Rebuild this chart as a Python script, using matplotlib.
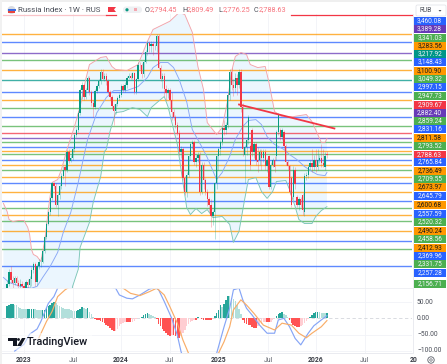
import numpy as np
import matplotlib
matplotlib.use('Agg')
import matplotlib.pyplot as plt
from matplotlib.patches import Rectangle, FancyBboxPatch, Polygon, Circle

plt.rcParams['font.family'] = ['Roboto', 'DejaVu Sans']

W, H = 447, 364

# weekly candles, first one is week 2 on the x axis
first_week = 2
opens = [
    2160,2181,2235,2198,2185,2206,2185,2173,2181,2173,
    2165,2189,2177,2202,2240,2266,2189,2257,2274,2278,
    2322,2385,2449,2501,2569,2643,2628,2539,2588,2628,
    2683,2725,2714,2804,2761,2777,2820,2901,2929,3025,
    3161,3191,3119,3161,3234,3149,3083,3060,3155,3185,
    3210,3271,3228,3246,3210,3149,3119,3066,3037,3077,
    3113,3131,3185,3161,3191,3234,3246,3234,3259,3149,
    3222,3315,3309,3253,3334,3392,3457,3431,3450,3431,
    3437,3501,3296,3222,3246,3167,3143,3161,3101,3031,
    2997,2957,2912,2804,2820,2673,2603,2688,2783,2847,
    2858,2756,2777,2793,2603,2740,2663,2603,2564,2539,
    2486,2505,2643,2783,2820,2858,2940,2929,2957,3131,
    3271,3191,3173,3234,3191,3271,3060,2793,2831,2874,
    2836,2929,2804,2847,2766,2766,2809,2777,2809,2730,
    2783,2623,2740,2766,2783,2918,2929,2890,2918,2836,
    2751,2730,2673,2578,2714,2578,2539,2564,2588,2501,
    2683,2688,2725,2746,2725,2766,2725,2766,2777,2746,
    2725,2794.45]
highs = [
    2198,2244,2257,2218,2214,2214,2198,2202,2193,2185,
    2198,2202,2214,2253,2278,2274,2266,2291,2296,2331,
    2394,2458,2510,2578,2653,2653,2643,2598,2638,2694,
    2730,2740,2815,2820,2793,2831,2912,2940,3037,3173,
    3204,3197,3173,3246,3246,3161,3101,3167,3197,3222,
    3284,3284,3259,3259,3222,3161,3131,3077,3089,3125,
    3143,3197,3197,3204,3246,3259,3259,3271,3271,3234,
    3328,3328,3322,3347,3405,3470,3470,3464,3464,3450,
    3515,3515,3309,3259,3259,3191,3173,3173,3149,3043,
    3014,2974,2929,2836,2831,2683,2699,2793,2858,2869,
    2874,2788,2809,2804,2751,2751,2673,2613,2574,2564,
    2515,2653,2793,2831,2869,2951,2985,2974,3149,3284,
    3296,3222,3259,3253,3284,3284,3083,2842,2885,3014,
    2847,2940,2858,2858,2831,2820,2820,2820,2820,2777,
    2793,2751,2777,2783,2929,3025,2940,2940,2929,2847,
    2766,2740,2683,2730,2725,2588,2574,2574,2598,2694,
    2704,2740,2766,2820,2793,2820,2820,2793,2847,2820,
    2809,2809.49]
lows = [
    2156,2173,2185,2165,2177,2173,2160,2160,2160,2152,
    2156,2165,2169,2173,2227,2173,2177,2244,2253,2270,
    2314,2376,2440,2491,2559,2613,2529,2482,2564,2613,
    2668,2628,2704,2746,2751,2766,2809,2885,2918,3014,
    3107,3101,3107,3149,3131,3066,2997,3043,3143,3173,
    3197,3216,3210,3191,3137,3101,3048,2957,3019,3066,
    3101,3119,3149,3149,3173,3222,3222,3222,3137,3137,
    3210,3284,3234,3240,3322,3379,3398,3398,3379,3411,
    3398,3284,3210,3173,3125,3101,3113,3054,2985,2980,
    2940,2901,2793,2777,2663,2588,2574,2678,2766,2820,
    2740,2725,2756,2588,2593,2613,2588,2534,2505,2431,
    2440,2376,2613,2714,2793,2842,2901,2907,2940,3101,
    3161,3125,3149,3131,3173,3031,2783,2648,2793,2847,
    2714,2783,2777,2740,2704,2740,2714,2756,2714,2704,
    2613,2613,2725,2704,2766,2896,2874,2874,2820,2740,
    2714,2588,2525,2564,2613,2525,2515,2525,2491,2486,
    2663,2673,2714,2704,2714,2704,2714,2746,2725,2725,
    2714,2776.25]
closes = [
    2181,2235,2198,2185,2206,2185,2173,2181,2173,2165,
    2189,2177,2202,2240,2266,2189,2257,2274,2278,2322,
    2385,2449,2501,2569,2643,2628,2539,2588,2628,2683,
    2714,2714,2804,2761,2777,2820,2901,2929,3025,3161,
    3191,3119,3161,3234,3149,3083,3060,3155,3185,3210,
    3271,3228,3246,3210,3149,3119,3066,3037,3077,3113,
    3131,3185,3161,3191,3234,3246,3234,3259,3149,3222,
    3315,3309,3253,3334,3392,3457,3431,3450,3431,3437,
    3501,3296,3222,3246,3167,3143,3161,3101,3031,2997,
    2957,2912,2804,2820,2673,2603,2688,2783,2847,2858,
    2756,2777,2793,2603,2740,2663,2603,2564,2539,2486,
    2505,2643,2783,2820,2858,2940,2929,2957,3131,3271,
    3191,3173,3234,3191,3271,3060,2820,2831,2874,3002,
    2740,2804,2847,2766,2756,2809,2777,2809,2730,2766,
    2623,2740,2766,2725,2918,3014,2890,2929,2836,2751,
    2730,2603,2539,2714,2638,2539,2564,2539,2515,2683,
    2688,2725,2746,2725,2766,2725,2766,2777,2746,2740,
    2783,2788.63]

# bollinger bands
upper_weeks = [0,2,3,5,8,11,13,14,15,16,18,20,21,22,23,24,26,29,31,34,38,41,44,46,52,55,58,60,
               66,72,77,80,89,94,97,101,104,107,109,114,117,120,122,124,127,130,132,136,140,
               142,145,149,155,162,165,170,172,173]
upper_band = [2545,2505,2468,2458,2463,2463,2431,2399,2331,2309,2300,2278,2322,2367,2431,2515,2648,2663,2714,
              2820,2946,3060,3222,3315,3360,3366,3303,3284,3277,3315,3464,3544,3600,3661,3646,3525,3303,3161,
              2968,2901,2940,3101,3271,3366,3392,3379,3315,3296,3303,3204,3031,3002,3002,3014,2974,2858,2858,2879]
middle_weeks = [0,3,9,15,18,21,25,29,32,36,40,43,45,50,55,59,66,72,77,80,84,88,91,94,98,101,106,109,
                114,117,121,124,128,131,135,138,141,145,150,153,157,161,165,168,172,173]
middle_band = [2210,2189,2173,2165,2173,2210,2257,2318,2408,2501,2648,2783,2874,3025,3113,3155,3155,3179,3234,
               3296,3328,3328,3296,3222,3089,2929,2836,2777,2663,2699,2783,2874,2946,2980,2985,2957,2890,2847,
               2820,2793,2766,2730,2704,2688,2683,2699]
lower_weeks = [0,30,36,37,40,41,46,48,52,54,55,57,60,64,69,73,77,79,84,86,88,91,93,96,98,100,103,106,109,
               112,117,121,123,126,129,131,135,138,141,144,146,151,153,156,158,161,165,167,170,173]
lower_band = [2000,2000,2125,2173,2244,2340,2454,2549,2678,2809,2820,2918,3025,3031,3054,3043,3002,3054,3101,
              3119,3060,2929,2847,2648,2525,2491,2520,2496,2515,2477,2482,2445,2363,2413,2564,2663,2673,2603,
              2569,2603,2653,2658,2613,2529,2468,2449,2449,2482,2510,2529]

# horizontal levels
level_prices = [3512,3460.08,3389.28,3341.03,3283.56,3217.92,3148.43,3100.90,3049.32,2997.15,2947.73,2909.67,
                2882.40,2859.24,2831.16,2811.58,2793.52,2765.84,2736.49,2709.55,2673.97,2645.79,2600.68,
                2557.59,2520.32,2490.24,2458.56,2412.93,2369.96,2331.75,2257.28,2156.71]
level_colors = ['o','b','p','g','o','t','b','o','g','b','g','r','p','g','b','o','g','b','o','g','o','b','o',
                'b','g','o','g','o','b','g','b','g']
palette = {'o': '#ff9800', 'b': '#2962ff', 'p': '#673ab7', 'g': '#4caf50', 't': '#009688', 'r': '#f23645'}

trend_weeks = [126, 177]
trend_prices = [3072, 2935]

# price scale labels, top to bottom
scale_labels = ['3,460.08','3,389.28','3,341.03','3,283.56','3,217.92','3,148.43','3,100.90','3,049.32','2,997.15',
                '2,947.73','2,909.67','2,882.40','2,859.24','2,831.16','2,811.58','2,793.52','2,788.63','2,765.84',
                '2,736.49','2,709.55','2,673.97','2,645.79','2,600.68','2,557.59','2,520.32','2,490.24','2,458.56',
                '2,412.93','2,369.96','2,331.75','2,257.28','2,156.71']
scale_colors = ['b','p','g','o','t','b','o','g','b','g','r','p','g','b','o','g','r','b','o','g','o','b','o','b','g',
                'o','g','o','b','g','b','g']
scale_y = [21,29,37.5,45.6,54,62,70.5,79,87,96,104.5,113,121,129,138,146,154.5,162,170.5,179,187,196,205,214,222,
           230.5,239,247.5,255.5,264,272.5,283.5]

# macd pane
hist = [
    38,42,43,43,42,40,35,31,30,29,
    28,28,29,29,29,28,27,26,25,25,
    26,32,38,42,46,50,48,42,38,34,
    32,30,29,28,26,24,22,22,26,30,
    35,32,30,32,20,12,4,-3,-5,-6,
    -8,-12,-16,-20,-24,-30,-36,-40,-38,-32,
    -25,-18,-15,-12,-12,-12,-12,-10,-8,-1,
    1,2,4,10,14,15,12,10,8,3,
    -1,-18,-25,-33,-38,-45,-52,-55,-50,-50,
    -55,-60,-62,-55,-45,-35,-25,-18,-12,-8,
    -5,-6,3,1,-2,-4,-5,-5,-5,-5,
    -3,8,15,25,40,35,45,55,70,68,
    62,60,52,40,30,12,-5,-15,-18,-20,
    -22,-26,-30,-30,-25,-22,-18,-12,-10,-12,
    -12,-10,-6,-1,6,14,17,18,14,10,
    4,-5,-15,-20,-25,-28,-28,-25,-22,-15,
    -8,-2,4,10,16,20,20,18,17,16,
    15,15]
macd_weeks = [6,11,14,18,20,24,27,29,34,60,62,66,69,73,78,81,83,86,90,93,95,98,112,115,118,121,123,126,128,130,133,
              137,141,145,147,150,153,156,159,163,166,170,173]
macd_line = [-101,-80,-49,-33,-10,46,67,93,124,93,72,62,60,72,90,95,88,52,0,-52,-103,-150,-150,-88,-26,31,88,93,57,
             31,10,-21,-46,-46,-5,0,-26,-62,-82,-46,-23,-5,8]
signal_weeks = [19,23,26,29,33,37,41,63,64,68,73,78,82,86,89,93,96,99,103,112,115,118,121,123,127,130,134,139,145,
                149,154,158,162,165,170,173]
signal_line = [-60,-10,21,67,88,103,124,124,93,77,70,82,93,72,36,-15,-67,-108,-150,-150,-108,-72,-26,26,57,41,15,
               -21,-36,-15,-21,-46,-60,-46,-26,-7]
macd_ticks = [50, 0, -50, -100]
macd_tick_labels = ['50.00', '0.00', '\u221250.00', '\u2212100.00']

tick_weeks = [11, 37.2, 62.9, 89, 115.3, 141.5, 167.1, 193.3, 219.4]
tick_labels = ['2023', 'Jul', '2024', 'Jul', '2025', 'Jul', '2026', 'Jul', '20']

TEAL = '#089981'
RED = '#f23645'


def pane(top, bottom):
    return fig.add_axes([2 / W, 1 - bottom / H, 410 / W, (bottom - top) / H])


fig = plt.figure(figsize=(W / 100, H / 100), dpi=100, facecolor='white')

ax = pane(14, 288)
ax.set_yscale('log')
ax.set_xlim(-0.765, 218.5)
ax.set_ylim(2166, 3650)
ax.axis('off')

for wk in tick_weeks:
    ax.axvline(wk, color='#f1f3f7', lw=0.6, zorder=0)

band_x = np.r_[upper_weeks, lower_weeks[::-1]]
band_y = np.r_[upper_band, lower_band[::-1]]
ax.fill(band_x, band_y, color='#ebf6fe', lw=0, zorder=1)

for price, key in zip(level_prices, level_colors):
    ax.axhline(price, color=palette[key], lw=1.0, alpha=0.75, zorder=2)

ax.plot(upper_weeks, upper_band, color='#f4a3a9', lw=0.65, zorder=3)
ax.plot(middle_weeks, middle_band, color='#89a8f5', lw=0.65, zorder=3)
ax.plot(lower_weeks, lower_band, color='#7cc6b8', lw=0.65, zorder=3)

weeks = first_week + np.arange(len(closes))
o = np.array(opens, dtype=float)
c = np.array(closes, dtype=float)
colors = [TEAL if b >= a else RED for a, b in zip(o, c)]
ax.vlines(weeks, lows, highs, colors=colors, lw=0.45, alpha=0.45, zorder=4)
ax.bar(weeks, np.abs(c - o), bottom=np.minimum(o, c), width=0.72, color=colors, lw=0, zorder=5)

ax.plot(trend_weeks, trend_prices, color=RED, lw=1.3, zorder=6)

# macd
ax2 = pane(288, 353)
ax2.set_xlim(-0.765, 218.5)
ax2.set_ylim(-107, 93.5)
ax2.axis('off')
for wk in tick_weeks:
    ax2.axvline(wk, color='#f1f3f7', lw=0.6, zorder=0)
for val in macd_ticks:
    if val == 0:
        ax2.axhline(val, color='#d3d6dc', lw=0.6, ls=(0, (4, 3)), zorder=1)
    else:
        ax2.axhline(val, color='#f1f3f7', lw=0.6, zorder=0)

bar_colors = []
for i, v in enumerate(hist):
    prev = hist[i - 1] if i else 0
    if v >= 0:
        bar_colors.append('#26a69a' if v >= prev else '#b2dfdb')
    else:
        bar_colors.append('#ff5252' if v <= prev else '#ffcdd2')
ax2.bar(first_week + np.arange(len(hist)), hist, width=0.85, color=bar_colors, lw=0, zorder=2)
ax2.plot(macd_weeks, macd_line, color='#86a5f6', lw=0.85, zorder=3)
ax2.plot(signal_weeks, signal_line, color='#f9ad68', lw=0.85, zorder=3)

# everything around the panes, in pixels
top = fig.add_axes([0, 0, 1, 1], facecolor='none')
top.set_xlim(0, W)
top.set_ylim(H, 0)
top.axis('off')

top.add_patch(Rectangle((0, 0), W, 2, color='#efefef', lw=0))
top.add_patch(Rectangle((0, 0), 2, H, color='#f1f1f1', lw=0))
top.add_patch(Rectangle((2, 2), 411, 12, color='white', lw=0, zorder=1))
top.plot([3, 106], [14.5, 14.5], color='#f9c4c8', lw=0.9, zorder=2)
top.plot([106, 116], [14.5, 14.5], color=RED, lw=0.9, zorder=2)
top.plot([291, 412], [14.5, 14.5], color=RED, lw=0.9, zorder=2)
top.plot([2, 412], [288, 288], color='#eceef2', lw=0.6)
top.plot([2, 412], [353, 353], color='#e6e8ee', lw=0.6)
top.plot([413, 413], [14, 353], color='#e6e8ee', lw=0.6)

# symbol flag
top.add_patch(Circle((11.5, 10), 4, color='#d8dbe2', lw=0, zorder=3))
top.add_patch(Rectangle((7.5, 8.5), 8, 2.2, color='#3d6fe0', lw=0, zorder=4))
top.add_patch(Rectangle((8, 10.7), 7, 2.8, color='#e8453c', lw=0, zorder=4))
top.text(18, 10, 'Russia Index \u00b7 1W \u00b7 RUS', fontsize=5.7, color='#4a4e58', va='center', ha='left', zorder=5)
top.add_patch(Polygon([(108, 7), (116, 7), (114, 9.5), (116, 12), (108, 12)], color=RED, lw=0, zorder=5))
top.add_patch(FancyBboxPatch((123, 6.5), 19, 6.5, boxstyle='round,pad=0,rounding_size=3', fc='#eef0f3', ec='none', zorder=4))
top.add_patch(Circle((127, 9.8), 1.6, color='#089981', lw=0, zorder=5))
top.add_patch(Rectangle((133.5, 8.2), 3.5, 3.2, color='#f4a7b0', lw=0, zorder=5))
for x, letter, value in [(145, 'O', '2,794.45'), (182, 'H', '2,809.49'), (218, 'L', '2,776.25'), (254, 'C', '2,788.63')]:
    top.text(x, 10, letter, fontsize=5.2, color='#4a4e58', va='center', ha='left', zorder=5)
    top.text(x + 5, 10, value, fontsize=5.2, color='#f7737d', va='center', ha='left', zorder=5)

# currency box
top.add_patch(FancyBboxPatch((416, 5), 30, 11, boxstyle='round,pad=0,rounding_size=1.5', fc='white', ec='#dfe1e6', lw=0.5, zorder=4))
top.text(419.5, 10.7, 'RUB', fontsize=4.8, color='#4a4e58', va='center', ha='left', zorder=5)
top.add_patch(Polygon([(438.5, 10), (441.5, 10), (440, 11.7)], color='#4a4e58', lw=0, zorder=5))

# price scale
for label, key, y in zip(scale_labels, scale_colors, scale_y):
    top.add_patch(Rectangle((413.5, y - 4), 32.5, 8, color=palette[key], lw=0, zorder=6))
    txt = '#1a1a1a' if key == 'o' else '#f4f6fa'
    top.text(429.7, y + 0.1, label, fontsize=4.7, color=txt, ha='center', va='center', zorder=7)

# macd scale
for val, label in zip(macd_ticks, macd_tick_labels):
    y = 318.3 - val * 0.324
    top.text(417, y, label, fontsize=4.9, color='#4a4e58', ha='left', va='center')

# time scale
for wk, label in zip(tick_weeks, tick_labels):
    x = 2 + (wk + 0.765) * 410 / 219.265
    bold = label[:2] == '20'
    top.text(x, 360, label, fontsize=4.9, color='#3a3d46' if bold else '#5a5e68', ha='center', va='center',
             fontweight='bold' if bold else 'normal')

top.add_patch(Circle((431, 360), 3.2, fc='white', ec='#5a5e68', lw=0.6))
top.add_patch(Circle((431, 360), 1.2, fc='white', ec='#5a5e68', lw=0.5))

# tradingview logo
top.add_patch(Rectangle((2, 333), 90, 17, color='white', alpha=0.55, lw=0, zorder=7))
top.add_patch(Polygon([(8, 338), (16.5, 338), (16.5, 346), (12.5, 346), (12.5, 341), (8, 341)], color='#131722', lw=0, zorder=8))
top.add_patch(Circle((18.5, 339.5), 1.4, color='#131722', lw=0, zorder=8))
top.add_patch(Polygon([(22, 338), (25.5, 338), (21, 346), (17, 346)], color='#131722', lw=0, zorder=8))
top.text(27, 342.3, 'TradingView', fontsize=7.8, color='#131722', ha='left', va='center', zorder=8, fontweight='medium')

fig.savefig('out.png', dpi=100)
